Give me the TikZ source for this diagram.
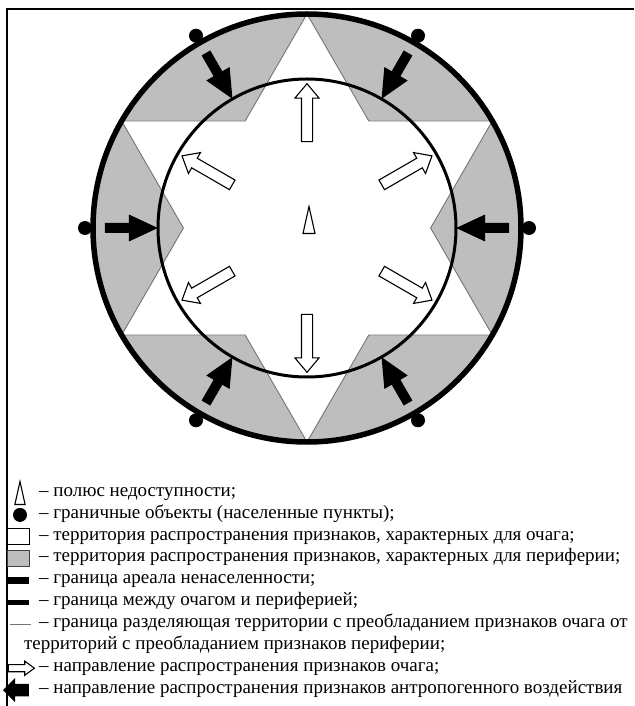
\documentclass[tikz,border=0pt]{standalone}
\usepackage{fontspec}
\setmainfont{Liberation Serif}
\usetikzlibrary{shapes.arrows,positioning}
\definecolor{periph}{RGB}{190,190,190}
\definecolor{edge}{RGB}{115,115,115}

\begin{document}
\begin{tikzpicture}[x=1pt, y=1pt, every node/.style={font=\fontsize{19}{21.5}\selectfont},
  ring/.style={draw=black, line width=5.5pt},
  core/.style={draw=black, line width=3pt},
  dot/.style={circle, fill=black, inner sep=0pt, minimum size=14pt},
  inarr/.style={single arrow, fill=black, inner sep=0pt, inner ysep=4.8pt, minimum height=53pt,
    single arrow head extend=8.5pt, single arrow tip angle=50},
  outarr/.style={single arrow, draw=black, fill=white, line width=1.1pt, inner sep=0pt, inner ysep=5pt,
    minimum height=58pt, single arrow head extend=6.5pt, single arrow tip angle=80},
  lgd/.style={inner xsep=0pt, inner ysep=0pt, text height=14pt, text depth=7.5pt},
  polemark/.pic={\draw[line width=1.1pt] (-6,-13.5) -- (0,13.5) -- (6,-13.5) -- cycle;}]
\useasboundingbox (-307,-478) rectangle (327,228);
% frame
\draw[line width=2.2pt] (-300,-478) -- (-300,219) -- (327,219);
% periphery ring and the star of the core
\fill[periph] (0,0) circle (214pt);
\filldraw[fill=white, draw=edge, line width=0.9pt] (90:214) -- (120:123.6) -- (150:214) -- (180:123.6)
  -- (210:214) -- (240:123.6) -- (270:214) -- (300:123.6) -- (330:214) -- (0:123.6) -- (30:214)
  -- (60:123.6) -- cycle;
\draw[core] (0,0) circle (149pt);
\draw[ring] (0,0) circle (214pt);
% border settlements
\node[dot] (d0) at (0:222) {};
\node[dot] (d1) at (60:222) {};
\node[dot] (d2) at (120:222) {};
\node[dot] (d3) at (180:222) {};
\node[dot] (d4) at (240:222) {};
\node[dot] (d5) at (300:222) {};
% anthropogenic pressure
\node[inarr, rotate=180] (p0) at (0:181) {};
\node[inarr, rotate=240] (p1) at (60:181) {};
\node[inarr, rotate=300] (p2) at (120:181) {};
\node[inarr, rotate=0] (p3) at (180:181) {};
\node[inarr, rotate=60] (p4) at (240:181) {};
\node[inarr, rotate=120] (p5) at (300:181) {};
% spreading of the core
\node[outarr, rotate=90] (c0) at (90:112) {};
\node[outarr, rotate=30] (c1) at (30:112) {};
\node[outarr, rotate=150] (c2) at (150:112) {};
\node[outarr, rotate=210] (c3) at (210:112) {};
\node[outarr, rotate=270] (c4) at (270:112) {};
\node[outarr, rotate=330] (c5) at (330:112) {};
\pic at (2,8) {polemark};
% legend
\node[lgd, anchor=west] (l1) at (-268,-265) {– полюс недоступности;};
\node[lgd, below=0pt of l1.south west, anchor=north west] (l2) {– граничные объекты (населенные пункты);};
\node[lgd, below=0pt of l2.south west, anchor=north west] (l3) {– территория распространения признаков, характерных для очага;};
\node[lgd, below=0pt of l3.south west, anchor=north west] (l4) {– территория распространения признаков, характерных для периферии;};
\node[lgd, below=0pt of l4.south west, anchor=north west] (l5) {– граница ареала ненаселенности;};
\node[lgd, below=0pt of l5.south west, anchor=north west] (l6) {– граница между очагом и периферией;};
\node[lgd, below=0pt of l6.south west, anchor=north west] (l7) {– граница разделяющая территории с преобладанием признаков очага от};
\node[lgd, below=0pt of l7.south west, anchor=north west, xshift=-15pt] (l7b) {территорий с преобладанием признаков периферии;};
\node[lgd, below=0pt of l7b.south west, anchor=north west, xshift=15pt] (l8) {– направление распространения признаков очага;};
\node[lgd, below=0pt of l8.south west, anchor=north west] (l9) {– направление распространения признаков антропогенного воздействия};
\pic[scale=0.85] at ([xshift=-19pt]l1.west) {polemark};
\node[dot] (s2) at ([xshift=-19pt]l2.west) {};
\node[draw, fill=white, line width=1pt, minimum width=22pt, minimum height=16pt, inner sep=0pt] (s3) at ([xshift=-20pt]l3.west) {};
\node[draw=black!75, fill=periph, line width=1pt, minimum width=22pt, minimum height=16pt, inner sep=0pt] (s4) at ([xshift=-20pt]l4.west) {};
\draw[line width=7pt] ([xshift=-31pt]l5.west) -- ([xshift=-10pt]l5.west);
\draw[line width=5pt] ([xshift=-31pt]l6.west) -- ([xshift=-10pt]l6.west);
\draw[edge, line width=1.5pt] ([xshift=-29pt]l7.west) -- ([xshift=-8pt]l7.west);
\node[outarr, minimum height=26pt, inner ysep=3pt, single arrow head extend=3.5pt, single arrow tip angle=72] (s8) at ([xshift=-20pt]l8.west) {};
\node[inarr, rotate=180, minimum height=26pt, inner ysep=6pt, single arrow head extend=6pt, single arrow tip angle=90] (s9) at ([xshift=-20pt]l9.west) {};
\end{tikzpicture}
\end{document}
